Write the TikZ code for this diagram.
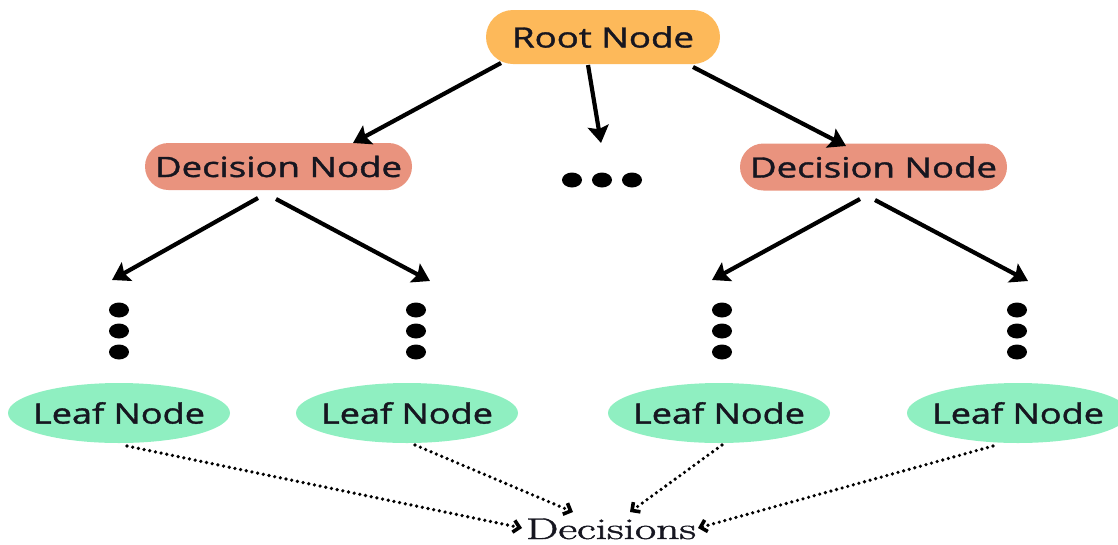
\documentclass[tikz,border=0pt]{standalone}
\usepackage{fontspec}
\usepackage{graphicx}
\usetikzlibrary{arrows.meta,shapes.geometric}
\newfontfamily\labelfont{Open Sans}[FakeBold=1.2]
\newfontfamily\serifwide{Latin Modern Roman}[FakeBold=1.4]

\definecolor{rootfill}{RGB}{253,185,90}
\definecolor{decfill}{RGB}{233,147,126}
\definecolor{leaffill}{RGB}{143,239,193}
\definecolor{inkcol}{RGB}{22,22,32}

% stretch a label horizontally to a given width (in pt)
\newlength\lblw
\newcommand\fitx[2]{\settowidth{\lblw}{#2}\pgfmathsetmacro\lblsx{#1/\lblw}\scalebox{\lblsx}[1]{#2}}

\tikzset{
  labelfont/.style={font=\labelfont\fontsize{28}{30}\selectfont},
  pill/.style={rectangle, rounded corners=#1, inner sep=0pt, text=inkcol, labelfont},
  rootbox/.style={pill=27pt, fill=rootfill, minimum width=234pt, minimum height=54pt},
  decbox/.style={pill=23.5pt, fill=decfill, minimum width=267pt, minimum height=47pt},
  leafbox/.style={ellipse, fill=leaffill, inner sep=0pt, minimum width=222pt,
    minimum height=60pt, text=inkcol, labelfont},
  dot/.style={ellipse, fill=black, inner sep=0pt, minimum width=20pt, minimum height=15pt},
  solidarrow/.style={line width=4.2pt, black, -{Stealth[length=17pt,width=21pt,inset=3pt]}},
  dotarrow/.style={line width=3.6pt, black, line cap=round, dash pattern=on 0pt off 5.8pt,
    -{Straight Barb[length=6pt,width=12pt]}},
}

\begin{document}
\begin{tikzpicture}[x=1pt,y=-1pt]
\useasboundingbox (0,0) rectangle (1118,544);

% nodes
\node[rootbox] (root) at (603,37) {\fitx{182}{Root Node}};
\node[decbox] (decL) at (278.5,166.5) {\fitx{247}{Decision Node}};
\node[decbox] (decR) at (873.5,167) {\fitx{247}{Decision Node}};

% zero-width label boxes keep the ellipses at their own size
\node[leafbox] (leaf1) at (119,413) {\makebox[0pt]{\fitx{172}{Leaf Node}}};
\node[leafbox] (leaf2) at (407,413) {\makebox[0pt]{\fitx{172}{Leaf Node}}};
\node[leafbox] (leaf3) at (719,413) {\makebox[0pt]{\fitx{172}{Leaf Node}}};
\node[leafbox] (leaf4) at (1018,413) {\makebox[0pt]{\fitx{172}{Leaf Node}}};

\node[text=inkcol, inner sep=0pt, font=\serifwide\fontsize{30}{32}\selectfont, anchor=base]
  (dec) at (611,539) {\fitx{170}{Decisions}};

% ellipsis between the decision nodes
\node[dot] (hd1) at (572,180) {};
\node[dot] (hd2) at (602,180) {};
\node[dot] (hd3) at (632,180) {};

% vertical ellipses above the leaves
\foreach \c/\x in {a/119,b/416,c/722,d/1017}{
  \node[dot] (\c1) at (\x,310) {};
  \node[dot] (\c2) at (\x,331) {};
  \node[dot] (\c3) at (\x,352) {};
}

% arrow end points
\coordinate (rootL)  at (501,63);
\coordinate (rootM)  at (588,65);
\coordinate (rootR)  at (693,67);
\coordinate (tipDL)  at (353,143);
\coordinate (tipMid) at (601,143);
\coordinate (tipDR)  at (846,146);

\coordinate (dLa) at (258,198);
\coordinate (dLb) at (276,199);
\coordinate (dRa) at (860,199);
\coordinate (dRb) at (875,200);
\coordinate (tA) at (112,280);
\coordinate (tB) at (430,281);
\coordinate (tC) at (712,280);
\coordinate (tD) at (1028,281);

\coordinate (l1) at (127,446);
\coordinate (l2) at (415,445);
\coordinate (l3) at (722,445);
\coordinate (l4) at (993,446);
\coordinate (dW)  at (522,528);
\coordinate (dNW) at (573,512);
\coordinate (dNE) at (630,512);
\coordinate (dE)  at (698,528);

% connectors
\draw[solidarrow] (rootL) -- (tipDL);
\draw[solidarrow] (rootM) -- (tipMid);
\draw[solidarrow] (rootR) -- (tipDR);

\draw[solidarrow] (dLa) -- (tA);
\draw[solidarrow] (dLb) -- (tB);
\draw[solidarrow] (dRa) -- (tC);
\draw[solidarrow] (dRb) -- (tD);

\draw[dotarrow] (l1) -- (dW);
\draw[dotarrow] (l2) -- (dNW);
\draw[dotarrow] (l3) -- (dNE);
\draw[dotarrow] (l4) -- (dE);
\end{tikzpicture}
\end{document}
